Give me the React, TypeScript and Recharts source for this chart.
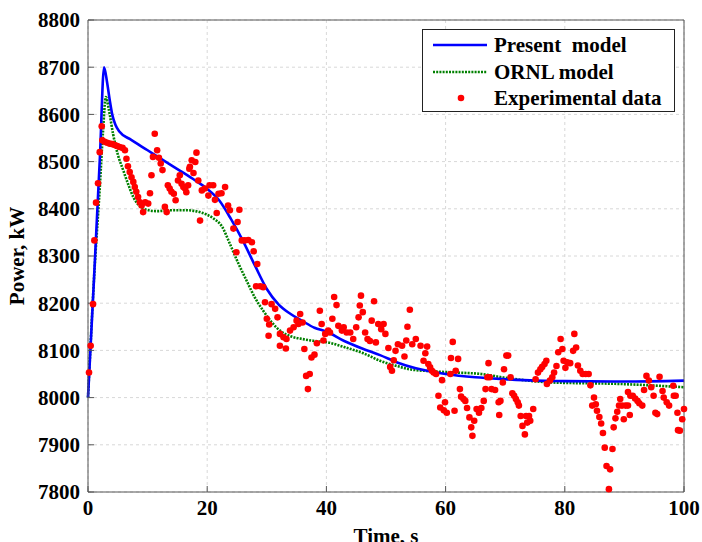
import { ComposedChart, Line, Scatter, XAxis, YAxis, CartesianGrid, Legend } from 'recharts';

const serif = '"Liberation Serif", "Times New Roman", serif';

const timeTicks = [0, 20, 40, 60, 80, 100];
const powerTicks = [7800, 7900, 8000, 8100, 8200, 8300, 8400, 8500, 8600, 8700, 8800];

// Present model (blue solid)
const presentTime = [0, 1, 2, 2.7, 3.2, 3.65, 4.1, 4.6, 5.3, 7, 10, 13, 15.4, 18, 20, 22, 24, 26, 28, 30, 32, 34, 36, 38, 40, 43, 46, 49, 52, 55, 60, 65, 70, 75, 80, 90, 100];
const presentPower = [8000, 8250, 8510, 8700, 8668, 8630, 8598, 8578, 8563, 8548, 8524, 8500, 8481, 8460, 8442, 8418, 8378, 8332, 8280, 8230, 8197, 8177, 8162, 8148, 8140, 8120, 8104, 8090, 8074, 8062, 8050, 8043, 8039, 8036, 8035, 8034, 8036];

// ORNL model (green dotted)
const ornlTime = [0, 1, 2, 2.5, 3, 3.5, 4.2, 5, 5.9, 6.8, 7.6, 8.5, 9.3, 11.5, 14, 16.5, 19, 21, 22.5, 23.8, 25.2, 26.6, 28, 29.4, 30.8, 32.2, 34, 36, 38, 40.6, 43, 46.2, 49, 51.8, 54, 57.4, 62, 66, 70, 78, 89, 100];
const ornlPower = [8000, 8250, 8450, 8560, 8637, 8610, 8559, 8515, 8482, 8450, 8425, 8408, 8400, 8395, 8397, 8397, 8392, 8380, 8362, 8326, 8285, 8248, 8212, 8184, 8160, 8142, 8130, 8124, 8120, 8116, 8107, 8094, 8078, 8067, 8060, 8056, 8053, 8050, 8042, 8032, 8029, 8022];

// Experimental data (red dots)
const expTime = [
  0.17, 0.45, 0.84, 1.07, 1.35, 1.68, 1.97, 2.3, 2.4, 2.8, 3.2, 3.65, 4.1, 4.5, 4.9, 5.3, 5.8, 6.2, 6.45, 6.7,
  7.0, 7.3, 7.6, 7.85, 8.1, 8.4, 8.7, 9.0, 9.25, 9.6, 10.1, 10.4, 10.65, 10.9, 11.2, 11.6, 11.9, 12.2, 12.5, 12.9,
  13.2, 13.4, 13.7, 14.0, 14.4, 14.7, 15.1, 15.4, 15.7, 16.0, 16.3, 16.5, 16.8, 17.0, 17.1, 17.4, 17.7, 18.0, 18.2, 18.5,
  18.8, 19.1, 19.6, 20.2, 20.4, 21.0, 21.3, 21.6, 21.9, 22.4, 23.0, 23.5, 23.8, 24.4, 24.9, 25.1, 25.4, 25.8, 26.3, 26.9,
  27.5, 27.8, 28.2, 28.4, 28.9, 29.4, 29.7, 30.0, 30.3, 30.4, 30.8, 31.4, 31.8, 32.2, 32.2, 32.8, 33.2, 33.3, 33.9, 34.5,
  35.0, 35.3, 35.6, 36.0, 36.3, 36.6, 36.9, 37.2, 37.5, 38.0, 38.4, 38.9, 39.2, 39.5, 39.8, 40.3, 40.6, 41.0, 41.3, 41.7,
  42.0, 42.6, 42.9, 43.4, 44.0, 44.5, 45.0, 45.4, 45.6, 45.8, 46.1, 46.5, 46.9, 47.3, 47.6, 48.0, 48.3, 48.7, 49.2, 49.6,
  49.9, 50.4, 50.7, 51.0, 51.3, 51.6, 52.0, 52.7, 53.1, 53.4, 53.6, 54.0, 54.4, 55.0, 55.8, 56.3, 56.6, 56.9, 57.1, 57.4,
  57.7, 58.0, 58.4, 58.8, 59.1, 59.4, 59.7, 59.9, 60.2, 60.8, 60.9, 61.2, 61.5, 61.7, 62.1, 62.4, 62.6, 63.0, 63.3, 63.6,
  64.0, 64.3, 64.5, 64.8, 65.2, 65.6, 66.0, 66.4, 66.7, 67.0, 67.2, 67.4, 67.7, 68.3, 68.9, 69.0, 69.2, 69.6, 69.8, 70.2,
  70.5, 70.9, 71.2, 71.5, 71.8, 72.1, 72.3, 72.6, 72.9, 73.3, 73.5, 73.7, 74.0, 74.2, 74.7, 75.1, 75.5, 75.9, 76.2, 76.6,
  76.9, 77.0, 77.5, 77.9, 78.2, 78.6, 78.9, 79.3, 79.6, 79.8, 80.1, 80.4, 80.9, 81.4, 81.6, 81.9, 82.2, 82.6, 83.0, 83.5,
  84.0, 84.3, 84.6, 84.9, 85.2, 85.4, 85.8, 86.1, 86.4, 86.7, 87.0, 87.4, 87.6, 88.0, 88.2, 88.5, 88.8, 89.1, 89.3, 89.6,
  89.9, 90.2, 90.6, 90.6, 90.9, 91.0, 91.4, 91.8, 92.2, 92.5, 93.0, 93.3, 93.7, 94.1, 94.5, 94.9, 95.2, 95.5, 95.9, 96.4,
  96.6, 97.1, 97.5, 98.2, 98.3, 98.6, 98.9, 99.0, 99.3, 99.7, 100.0,
];
const expPower = [
  8053, 8110, 8198, 8333, 8413, 8454, 8520, 8575, 8545, 8542, 8540, 8538, 8537, 8535, 8533, 8531, 8529, 8524, 8506, 8490,
  8478, 8467, 8457, 8446, 8436, 8425, 8414, 8407, 8393, 8414, 8411, 8433, 8471, 8510, 8559, 8524, 8508, 8496, 8482, 8404,
  8393, 8450, 8443, 8436, 8432, 8418, 8460, 8471, 8453, 8446, 8443, 8435, 8450, 8485, 8489, 8503, 8476, 8499, 8519, 8460,
  8375, 8439, 8443, 8428, 8450, 8450, 8419, 8391, 8432, 8433, 8446, 8407, 8397, 8358, 8308, 8372, 8398, 8333, 8333, 8334,
  8329, 8310, 8236, 8283, 8236, 8234, 8202, 8167, 8131, 8155, 8198, 8188, 8170, 8135, 8110, 8128, 8104, 8124, 8142, 8149,
  8163, 8156, 8177, 8159, 8103, 8046, 8018, 8050, 8085, 8091, 8115, 8184, 8156, 8121, 8135, 8142, 8138, 8167, 8213, 8196,
  8152, 8142, 8149, 8138, 8138, 8124, 8149, 8170, 8195, 8216, 8181, 8138, 8124, 8120, 8163, 8204, 8117, 8156, 8145, 8156,
  8135, 8105, 8065, 8057, 8079, 8099, 8113, 8110, 8087, 8121, 8150, 8186, 8113, 8124, 8110, 8078, 8094, 8108, 8071, 8064,
  8057, 8053, 8050, 8004, 7979, 8037, 7973, 7990, 7968, 8050, 8084, 8118, 7972, 8057, 8082, 8018, 8002, 7997, 7993, 7978,
  7958, 7937, 7919, 7951, 7976, 7968, 7978, 7993, 8018, 8043, 8073, 8043, 8018, 8016, 7990, 7963, 7993, 8032, 8060, 8089,
  8089, 8043, 8009, 8004, 7997, 7990, 7983, 7961, 7940, 7922, 7961, 7947, 7961, 7951, 7976, 8039, 8053, 8060, 8065, 8071,
  8078, 8029, 8036, 8043, 8053, 8067, 8096, 8124, 8103, 8078, 8063, 8075, 8073, 8099, 8135, 8106, 8068, 8057, 8050, 8050,
  8050, 8026, 7983, 8000, 7986, 7972, 7959, 7945, 7925, 7894, 7855, 7806, 7848, 7891, 7937, 7956, 7970, 7983, 7997, 7983,
  7954, 7983, 8012, 7983, 7963, 8004, 8004, 7998, 7993, 7988, 7983, 8016, 8046, 8036, 8022, 8004, 7968, 7965, 8044, 8014,
  8000, 7990, 7983, 8025, 8004, 8004, 7968, 7931, 7930, 7954, 7976,
];

const zip = (ts: number[], ps: number[]) => ts.map((t, i) => ({ t, p: ps[i] }));
const presentData = zip(presentTime, presentPower);
const ornlData = zip(ornlTime, ornlPower);
const expData = zip(expTime, expPower);

const tickStyle = { fill: '#000', fontSize: 21, fontWeight: 'bold', fontFamily: serif };
const frame = '#555';

const Dot = (props: any) => <circle cx={props.cx} cy={props.cy} r={3.3} fill="#ff0000" />;

const LegendBox = () => (
  <div
    style={{
      width: 253,
      height: 83,
      boxSizing: 'border-box',
      border: '1px solid #222',
      background: '#fff',
      paddingTop: 2,
      fontFamily: serif,
      fontWeight: 'bold',
      fontSize: 21,
      color: '#000',
    }}
  >
    {[
      { name: 'Present  model', kind: 'blue' },
      { name: 'ORNL model', kind: 'green' },
      { name: 'Experimental data', kind: 'red' },
    ].map((e) => (
      <div key={e.name} style={{ display: 'flex', alignItems: 'center', height: 26.5, whiteSpace: 'pre' }}>
        <svg width={64} height={10} style={{ marginLeft: 10, marginRight: 7 }}>
          {e.kind === 'blue' && <line x1={0} y1={5} x2={54} y2={5} stroke="#0000ff" strokeWidth={2.6} />}
          {e.kind === 'green' && (
            <line x1={0} y1={5} x2={54} y2={5} stroke="#008000" strokeWidth={2.6} strokeDasharray="2 1.2" />
          )}
          {e.kind === 'red' && <circle cx={28} cy={5} r={3.3} fill="#ff0000" />}
        </svg>
        <span style={{ marginLeft: -10, lineHeight: '26px' }}>{e.name}</span>
      </div>
    ))}
  </div>
);

export default function App() {
  return (
    <div style={{ position: 'absolute', left: 0, top: 0, width: 702, height: 542, background: '#fff' }}>
      <ComposedChart width={702} height={542} margin={{ top: 18, right: 16, bottom: 10, left: 0 }}>
        <CartesianGrid stroke="#d8d8d8" strokeDasharray="3 3" />
        <XAxis
          dataKey="t"
          type="number"
          domain={[0, 100]}
          ticks={timeTicks}
          height={40}
          stroke={frame}
          tickSize={-6}
          tickMargin={14}
          tick={tickStyle}
          label={{ value: 'Time, s', position: 'bottom', offset: -4, fill: '#000', fontSize: 21, fontWeight: 'bold', fontFamily: serif }}
        />
        <XAxis xAxisId="top" orientation="top" type="number" domain={[0, 100]} ticks={timeTicks} height={2} stroke={frame} tickSize={-6} tick={false} />
        <YAxis
          dataKey="p"
          type="number"
          domain={[7800, 8800]}
          ticks={powerTicks}
          width={88}
          stroke={frame}
          tickSize={-6}
          tickMargin={14}
          tick={tickStyle}
          label={{ value: 'Power, kW', angle: -90, position: 'insideLeft', offset: 17, textAnchor: 'middle', fill: '#000', fontSize: 21, fontWeight: 'bold', fontFamily: serif }}
        />
        <YAxis yAxisId="right" orientation="right" type="number" domain={[7800, 8800]} ticks={powerTicks} width={2} stroke={frame} tickSize={-6} tick={false} />
        <Line data={ornlData} dataKey="p" type="monotone" stroke="#008000" strokeWidth={2.6} strokeDasharray="2 1.2" dot={false} isAnimationActive={false} />
        <Line data={presentData} dataKey="p" type="monotone" stroke="#0000ff" strokeWidth={2.6} dot={false} isAnimationActive={false} />
        <Scatter data={expData} dataKey="p" fill="#ff0000" shape={<Dot />} isAnimationActive={false} />
        <Legend
          layout="vertical"
          align="center"
          verticalAlign="middle"
          content={<LegendBox />}
          wrapperStyle={{ left: 422, top: 29, width: 253, height: 83 }}
        />
      </ComposedChart>
    </div>
  );
}
